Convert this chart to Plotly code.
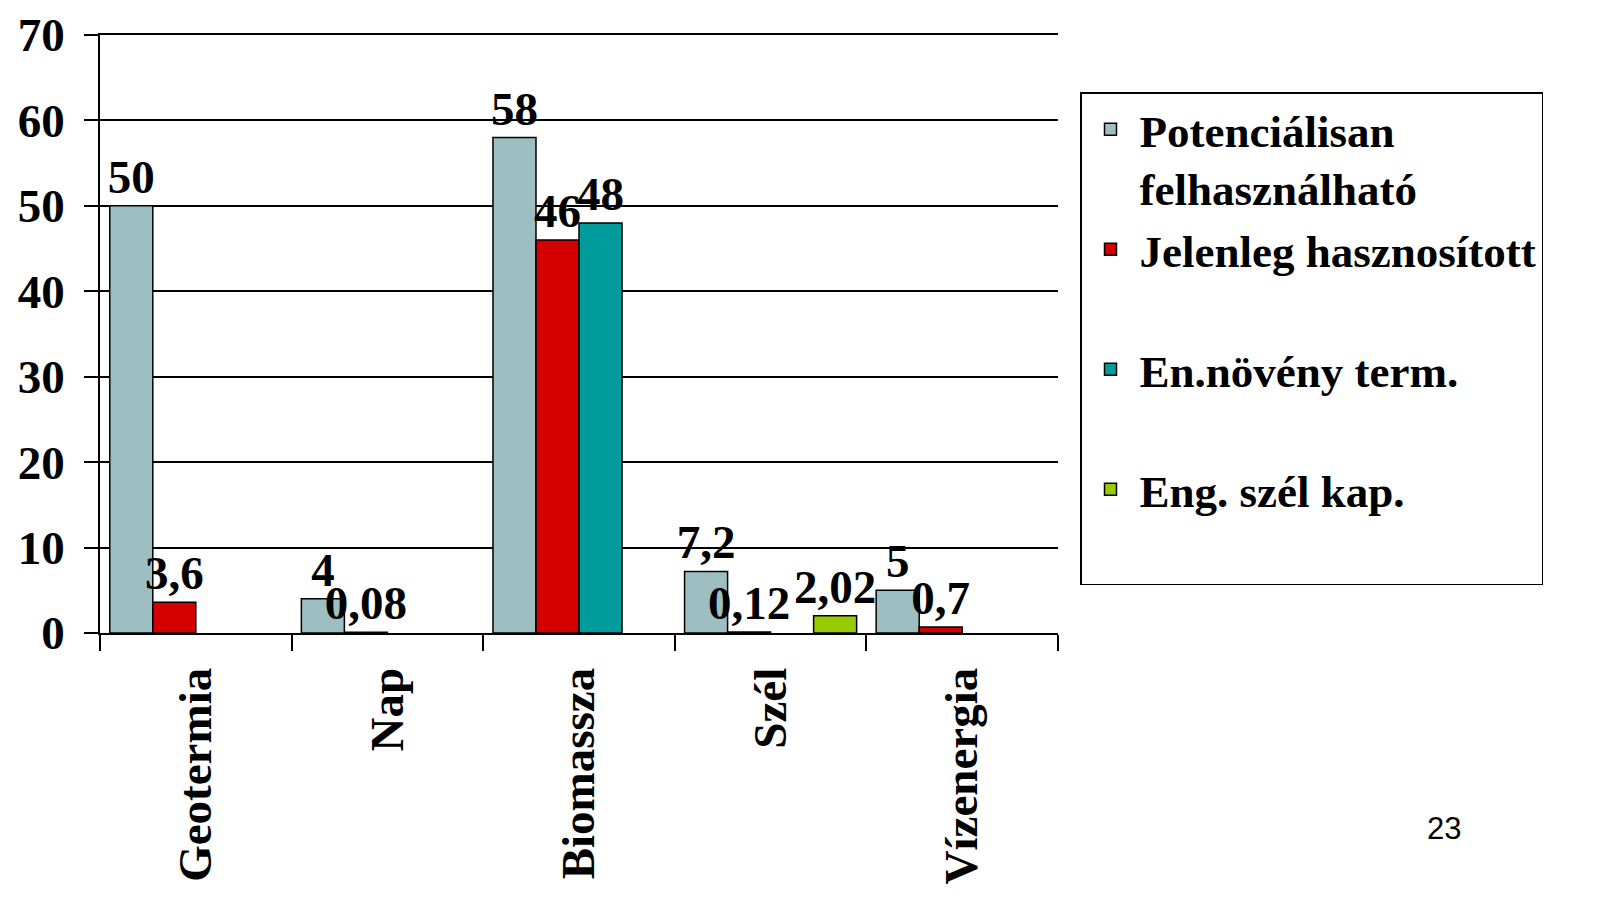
import plotly.graph_objects as go

categories = ["Geotermia", "Nap", "Biomassza", "Szél", "Vízenergia"]
series_names = [
    "Potenciálisan<br>felhasználható",
    "Jelenleg hasznosított<br>\u00a0",
    "En.növény term.<br>\u00a0",
    "Eng. szél kap.<br>\u00a0",
]
potencialis = [50, 4, 58, 7.2, 5]
jelenleg = [3.6, 0.08, 46, 0.12, 0.7]
en_noveny = [None, None, 48, None, None]
eng_szel = [None, None, None, 2.02, None]
y_ticks = [0, 10, 20, 30, 40, 50, 60, 70]

series_values = [potencialis, jelenleg, en_noveny, eng_szel]
colors = ["#9dbfc2", "#d40000", "#009c9c", "#99cc00"]

FONT = "Liberation Serif"

# plot area inside the figure div
L, T, PW, PH = 92, 27, 958, 598


def fmt(v):
    if v is None:
        return ""
    return f"{v:g}".replace(".", ",")


fig = go.Figure()
for name, vals, col in zip(series_names, series_values, colors):
    fig.add_bar(
        x=categories,
        y=vals,
        name=name,
        marker=dict(color=col, line=dict(color="black", width=1.5)),
        text=[fmt(v) for v in vals],
        textposition="outside",
        textfont=dict(family=FONT, size=47, color="black", weight="bold"),
        constraintext="none",
        cliponaxis=False,
    )

fig.update_layout(
    width=1588,
    height=888,
    margin=dict(l=L, r=1588 - L - PW, t=T, b=888 - T - PH, autoexpand=False),
    paper_bgcolor="white",
    plot_bgcolor="white",
    barmode="group",
    bargap=0.102,
    bargroupgap=0,
    showlegend=True,
    legend=dict(
        x=(1072 - L) / PW,
        xanchor="left",
        y=(T + PH - 84) / PH,
        yanchor="top",
        valign="top",
        bordercolor="black",
        borderwidth=1.5,
        bgcolor="white",
        itemwidth=48,
        font=dict(family=FONT, size=45, color="black", weight="bold"),
        tracegroupgap=0,
    ),
    xaxis=dict(
        type="category",
        automargin=False,
        showline=True,
        mirror=True,
        linecolor="black",
        linewidth=2,
        ticks="outside",
        tickson="boundaries",
        ticklen=16,
        tickwidth=1.5,
        tickcolor="black",
        tickangle=-90,
        tickfont=dict(family=FONT, size=47, color="black", weight="bold"),
        ticklabelstandoff=14,
        ticklabeloverflow="allow",
        showgrid=False,
    ),
    yaxis=dict(
        range=[0, 70],
        automargin=False,
        tickvals=y_ticks,
        showline=True,
        linecolor="black",
        linewidth=1.5,
        ticks="outside",
        ticklen=14,
        tickwidth=1.5,
        tickcolor="black",
        showgrid=True,
        gridcolor="black",
        gridwidth=1.5,
        zeroline=False,
        tickfont=dict(family=FONT, size=47, color="black", weight="bold"),
        ticklabelstandoff=10,
        ticklabeloverflow="allow",
    ),
    annotations=[
        dict(
            text="23",
            xref="paper",
            yref="paper",
            x=(1436 - L) / PW,
            y=(T + PH - 820) / PH,
            xanchor="center",
            yanchor="middle",
            showarrow=False,
            font=dict(family="Liberation Sans", size=31, color="black"),
        )
    ],
)

fig.write_html("out.html")
